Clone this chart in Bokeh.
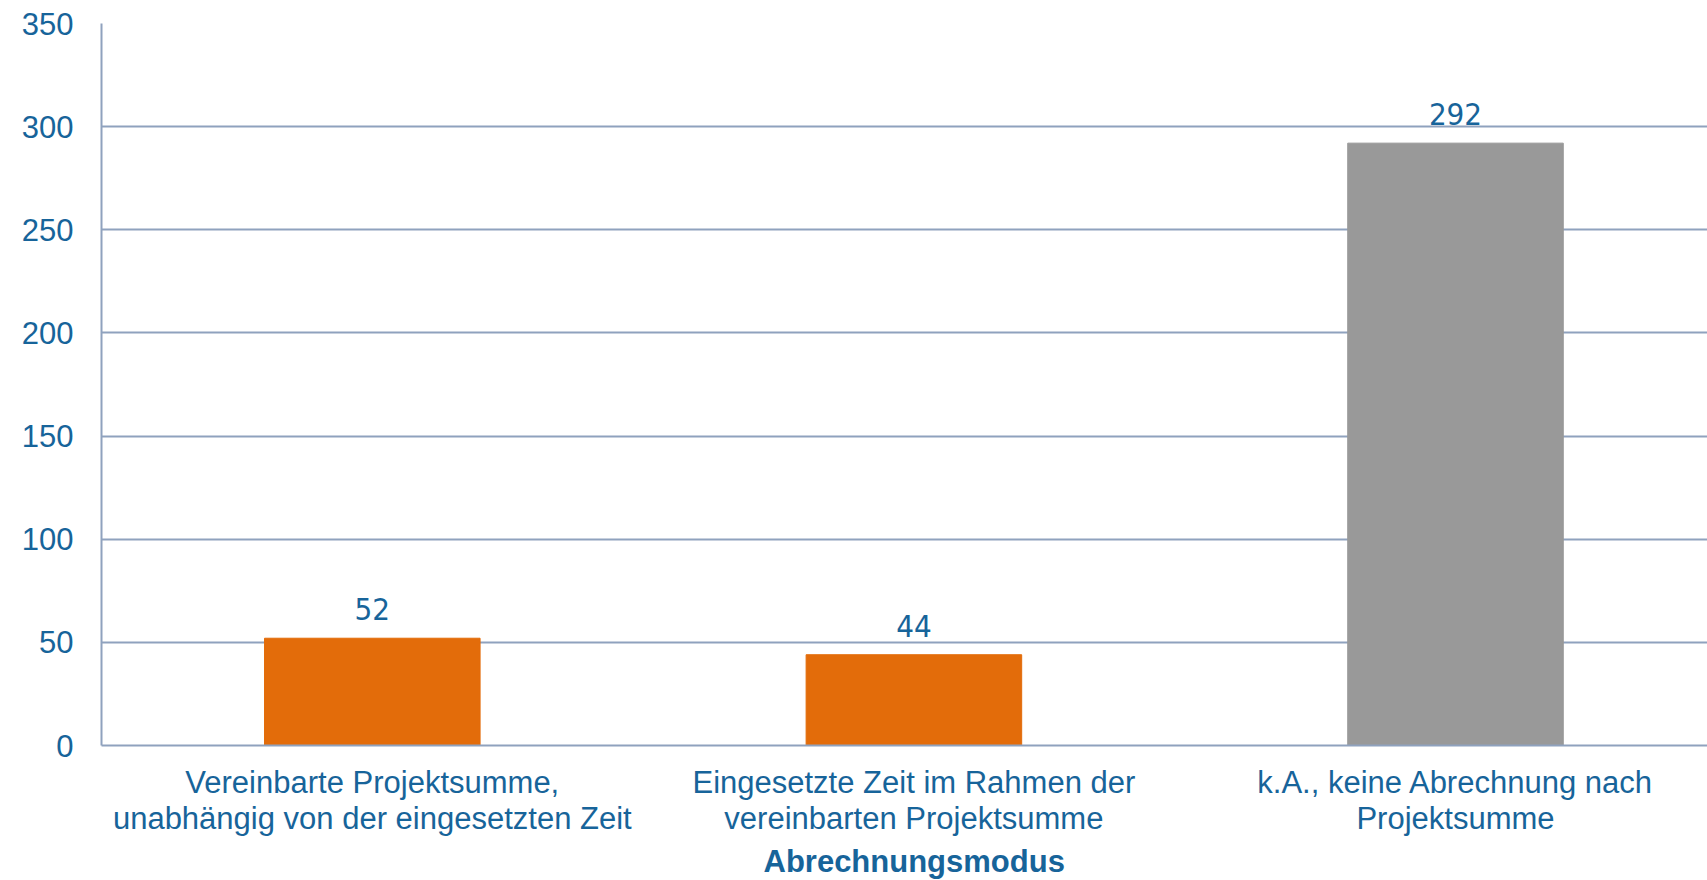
from bokeh.plotting import figure
from bokeh.models import Range1d, FixedTicker, ColumnDataSource, LabelSet, Title
from bokeh.core.properties import value
from bokeh.embed import file_html
from bokeh.resources import INLINE

categories = [
    "Vereinbarte Projektsumme,\nunabhängig von der eingesetzten Zeit",
    "Eingesetzte Zeit im Rahmen der\nvereinbarten Projektsumme",
    "k.A., keine Abrechnung nach\nProjektsumme",
]
values = [52, 44, 292]
bar_colors = ["#E36C0A", "#E36C0A", "#999999"]
y_ticks = [0, 50, 100, 150, 200, 250, 300, 350]
x_title = "Abrechnungsmodus"

TEXT = "#17649A"
GRID = "#8FA2BE"
FONT = "Liberation Sans"
NARROW = "'Liberation Sans Narrow', 'DejaVu Sans Condensed', 'Liberation Sans', sans-serif"

W, H = 1707, 880
LEFT, TOP, BOTTOM = 101, 23, 135
cat_px = 541.6
x_end = (W - LEFT) / cat_px

positions = [i + 0.5 for i in range(len(categories))]

p = figure(width=W, height=H, output_backend="svg", toolbar_location=None,
           x_range=Range1d(0, x_end), y_range=Range1d(0, 350),
           min_border_left=LEFT, min_border_top=TOP, min_border_bottom=BOTTOM,
           min_border_right=0)
p.outline_line_color = None
p.background_fill_color = "white"
p.border_fill_color = "white"

src = ColumnDataSource(dict(x=positions, top=values, color=bar_colors,
                            label=[str(v) for v in values]))
p.vbar(x="x", top="top", bottom=0, width=0.398, color="color", source=src)

labels = LabelSet(x="x", y="top", text="label", source=src, text_align="center",
                  text_baseline="alphabetic", y_offset=18,
                  text_font=value(NARROW), text_font_size="31px",
                  text_color=TEXT)
p.add_layout(labels)

# y axis
p.yaxis.ticker = FixedTicker(ticks=y_ticks)
p.yaxis.axis_line_color = GRID
p.yaxis.axis_line_width = 2
p.yaxis.major_tick_line_color = None
p.yaxis.major_tick_out = 0
p.yaxis.major_tick_in = 0
p.yaxis.minor_tick_line_color = None
p.yaxis.major_label_standoff = 28
p.yaxis.major_label_text_font = FONT
p.yaxis.major_label_text_font_size = "31px"
p.yaxis.major_label_text_color = TEXT

# x axis
p.xaxis.ticker = FixedTicker(ticks=positions)
p.xaxis.major_label_overrides = {pos: lab for pos, lab in zip(positions, categories)}
p.xaxis.axis_line_color = GRID
p.xaxis.axis_line_width = 2
p.xaxis.major_tick_line_color = None
p.xaxis.major_tick_out = 0
p.xaxis.major_tick_in = 0
p.xaxis.minor_tick_line_color = None
p.xaxis.major_label_standoff = 19
p.xaxis.major_label_text_font = FONT
p.xaxis.major_label_text_font_size = "31px"
p.xaxis.major_label_text_line_height = 1.05
p.xaxis.major_label_text_color = TEXT

p.xgrid.grid_line_color = None
p.ygrid.grid_line_color = GRID
p.ygrid.grid_line_width = 2

title = Title(text=x_title, align="left", offset=662, standoff=4,
              text_font=FONT, text_font_size="31px", text_font_style="bold",
              text_color=TEXT)
p.add_layout(title, "below")

open("out.html", "w").write(file_html(p, INLINE))
